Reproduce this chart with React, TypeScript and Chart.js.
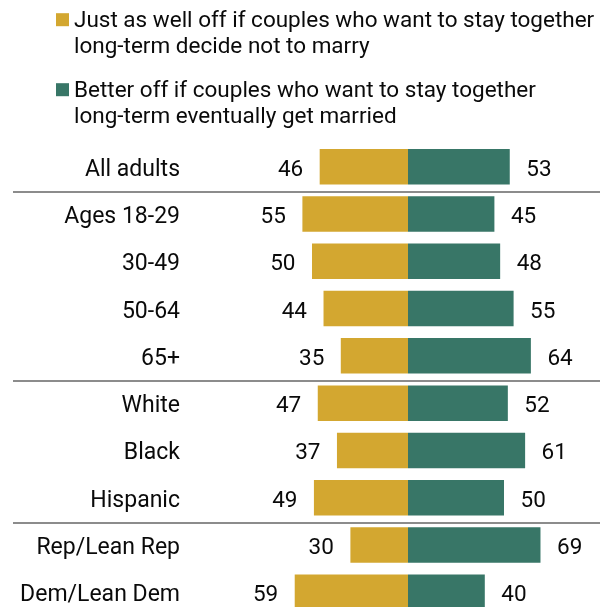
import React, { useEffect, useRef } from "react";
import { Chart, registerables } from "chart.js";

Chart.register(...registerables);

const categories = [
  "All adults",
  "Ages 18-29",
  "30-49",
  "50-64",
  "65+",
  "White",
  "Black",
  "Hispanic",
  "Rep/Lean Rep",
  "Dem/Lean Dem",
];
const justAsWellOff = [46, 55, 50, 44, 35, 47, 37, 49, 30, 59];
const betterOff = [53, 45, 48, 55, 64, 52, 61, 50, 69, 40];
const legendLines = [
  ["Just as well off if couples who want to stay together", "long-term decide not to marry"],
  ["Better off if couples who want to stay together", "long-term eventually get married"],
];
const groupBreaks = [1, 5, 8];

const GOLD = "#D3A730";
const TEAL = "#387667";
const FONT = "Roboto, 'Liberation Sans', sans-serif";

const overlayPlugin = {
  id: "overlay",
  afterDatasetsDraw(chart: any) {
    const ctx = chart.ctx as CanvasRenderingContext2D;
    const area = chart.chartArea;
    const yScale = chart.scales.y;
    const band = (area.bottom - area.top) / categories.length;
    ctx.save();

    // separators
    ctx.fillStyle = "#8C8C8C";
    groupBreaks.forEach((b) => {
      const y = area.top + band * b + 1.7;
      ctx.fillRect(13, Math.round(y) - 1, chart.width - 13, 2);
    });

    // category labels
    ctx.fillStyle = "#0A0A0A";
    ctx.font = `23px ${FONT}`;
    ctx.textBaseline = "alphabetic";
    categories.forEach((c, i) => {
      const y = yScale.getPixelForValue(i) + 9;
      ctx.textAlign = "right";
      ctx.fillText(c, 180, y);
    });

    // value labels
    ctx.font = `22.5px ${FONT}`;
    const metaL = chart.getDatasetMeta(0);
    const metaR = chart.getDatasetMeta(1);
    categories.forEach((_, i) => {
      const l = metaL.data[i] as any;
      const r = metaR.data[i] as any;
      const y = l.y + 9;
      ctx.textAlign = "right";
      ctx.fillText(String(justAsWellOff[i]), l.x - 16.5, y);
      ctx.textAlign = "left";
      ctx.fillText(String(betterOff[i]), r.x + 16.5, y);
    });

    // legend
    const colors = [GOLD, TEAL];
    const baselines = [26.7, 96.7];
    ctx.font = `22.5px ${FONT}`;
    ctx.textAlign = "left";
    legendLines.forEach((lines, k) => {
      ctx.fillStyle = colors[k];
      ctx.fillRect(56, baselines[k] - 13.5, 13, 13);
      ctx.fillStyle = "#0A0A0A";
      lines.forEach((t, j) => {
        ctx.fillText(t, 74, baselines[k] + j * 26);
      });
    });
    ctx.restore();
  },
};

export default function App() {
  const ref = useRef<HTMLCanvasElement | null>(null);
  useEffect(() => {
    if (!ref.current) return;
    const chart = new Chart(ref.current, {
      type: "bar",
      data: {
        labels: categories,
        datasets: [
          {
            label: legendLines[0].join(" "),
            data: justAsWellOff.map((v) => -v),
            backgroundColor: GOLD,
            borderWidth: 0,
            barPercentage: 0.75,
            categoryPercentage: 1,
          },
          {
            label: legendLines[1].join(" "),
            data: betterOff,
            backgroundColor: TEAL,
            borderWidth: 0,
            barPercentage: 0.75,
            categoryPercentage: 1,
          },
        ],
      },
      options: {
        indexAxis: "y",
        responsive: false,
        animation: false,
        devicePixelRatio: 1,
        layout: { padding: { top: 143, bottom: 24, left: 0, right: 0 } },
        scales: {
          x: { stacked: true, display: false, min: -212.5, max: 100 },
          y: { stacked: true, display: false },
        },
        plugins: {
          legend: { display: false },
          tooltip: { enabled: false },
        },
      },
      plugins: [overlayPlugin],
    });
    return () => chart.destroy();
  }, []);
  return (
    <div
      style={{
        position: "absolute",
        left: 0,
        top: 0,
        width: 600,
        height: 607,
        overflow: "hidden",
        background: "#fff",
      }}
    >
      <canvas ref={ref} width={600} height={640} style={{ display: "block" }} />
    </div>
  );
}
